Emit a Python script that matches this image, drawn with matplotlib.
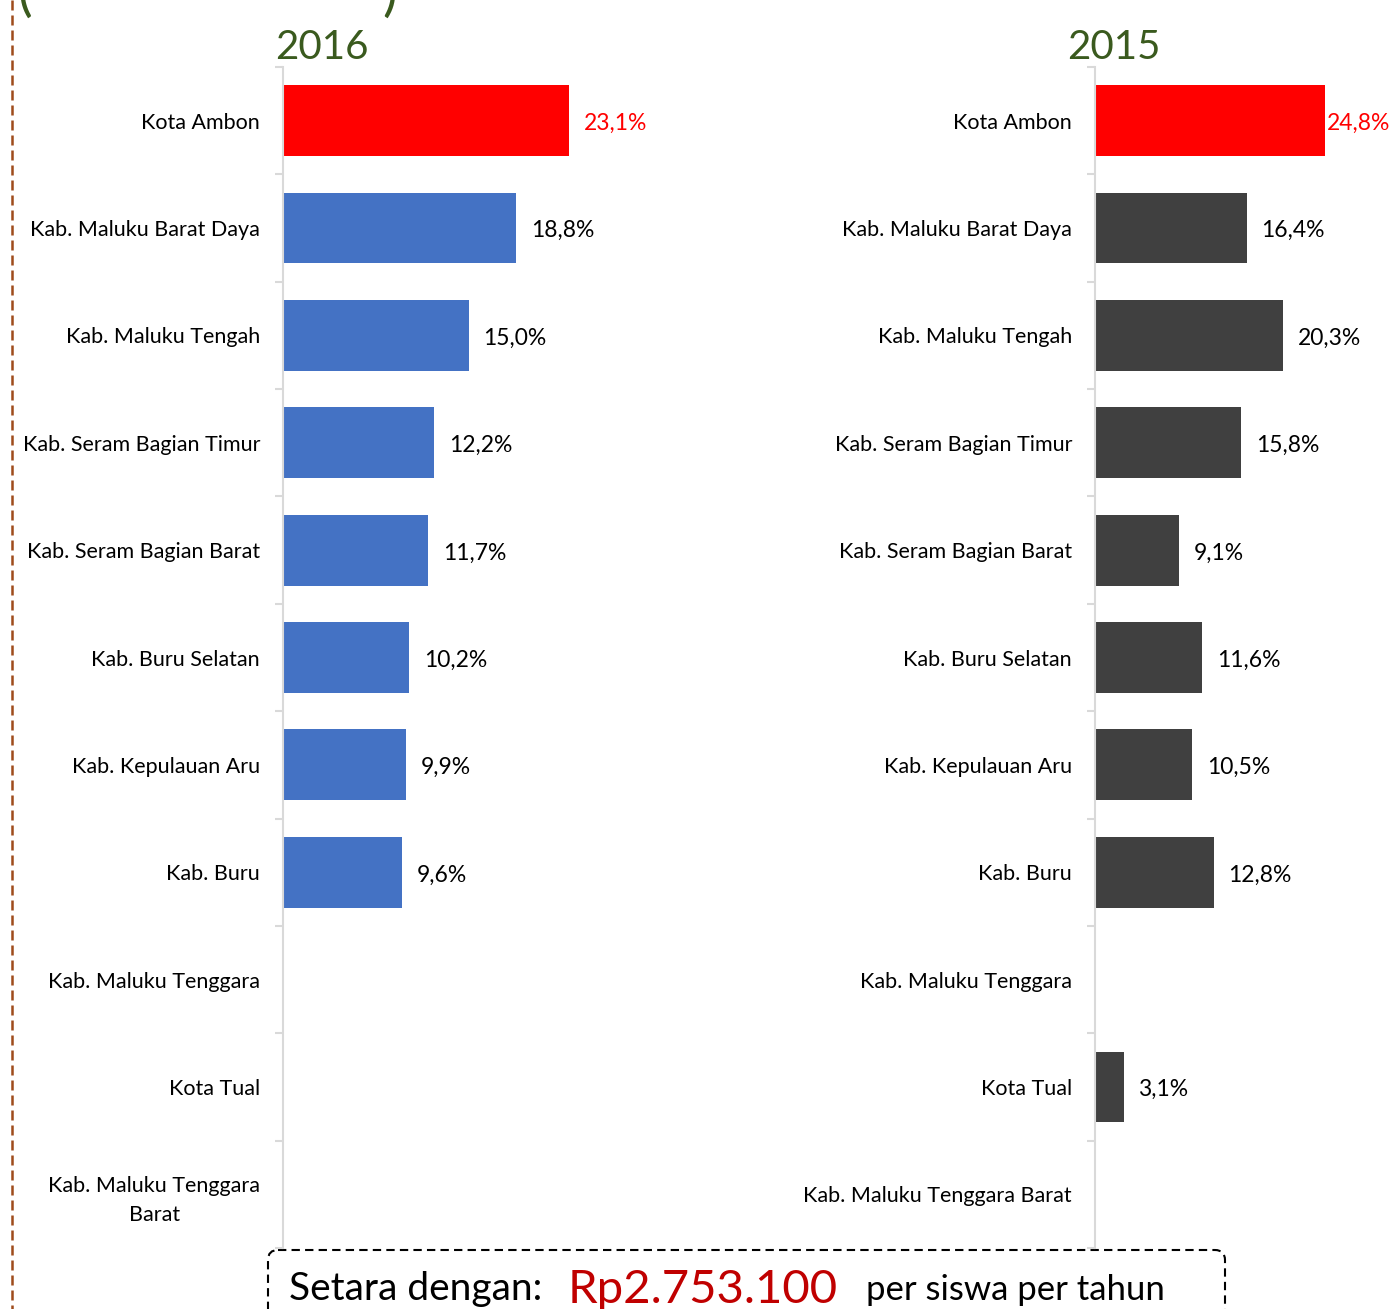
import numpy as np
import matplotlib
matplotlib.use("Agg")
import matplotlib.pyplot as plt
from matplotlib.patches import FancyBboxPatch
from matplotlib.lines import Line2D

plt.rcParams["font.family"] = ["Lato", "DejaVu Sans"]

categories = ["Kota Ambon", "Kab. Maluku Barat Daya", "Kab. Maluku Tengah",
              "Kab. Seram Bagian Timur", "Kab. Seram Bagian Barat", "Kab. Buru Selatan",
              "Kab. Kepulauan Aru", "Kab. Buru", "Kab. Maluku Tenggara", "Kota Tual",
              "Kab. Maluku Tenggara Barat"]
labels_2016 = categories[:-1] + ["Kab. Maluku Tenggara\nBarat"]
labels_2015 = categories
values_2016 = [23.1, 18.8, 15.0, 12.2, 11.7, 10.2, 9.9, 9.6, np.nan, np.nan, np.nan]
values_2015 = [24.8, 16.4, 20.3, 15.8, 9.1, 11.6, 10.5, 12.8, np.nan, 3.1, np.nan]

W, H = 1393, 1309
fig = plt.figure(figsize=(W / 100, H / 100), dpi=100)

RED = "#FF0000"
GREEN = "#3A5A1E"
GRID = "#D9D9D9"


def draw_panel(rect, values, labels, color, title, title_dx, first_pad):
    ax = fig.add_axes(rect)
    n = len(values)
    y = np.arange(n)
    colors = [RED if i == 0 else color for i in range(n)]
    vals = np.nan_to_num(values)
    ax.barh(y, vals, height=0.66, color=colors)
    for i, v in enumerate(values):
        if np.isnan(v):
            continue
        pad = first_pad if i == 0 else 10.5
        ax.annotate(f"{v:.1f}%".replace(".", ","), (v, i), xytext=(pad, -2),
                    textcoords="offset points", va="center", ha="left",
                    fontsize=16.5, color=RED if i == 0 else "black")
    ax.set_ylim(n - 0.5, -0.5)
    ax.set_xlim(0, 30)
    ax.set_yticks(y)
    ax.set_yticklabels(labels, fontsize=15.5)
    for t in ax.get_yticklabels():
        t.set_multialignment("center")
        t.set_linespacing(1.55)
    ax.set_yticks(np.arange(n + 1) - 0.5, minor=True)
    ax.tick_params(axis="y", which="major", length=0, pad=16.5)
    ax.tick_params(axis="y", which="minor", length=6, color=GRID, width=1.5)
    ax.set_xticks([])
    for s in ["top", "right", "bottom"]:
        ax.spines[s].set_visible(False)
    ax.spines["left"].set_color(GRID)
    ax.spines["left"].set_linewidth(1.5)
    ax.annotate(title, (0, 1), xycoords="axes fraction", xytext=(title_dx, 8),
                textcoords="offset pixels", fontsize=29, color=GREEN,
                ha="left", va="baseline")
    return ax


bottom = 1 - 1248 / H
height = (1248 - 67) / H
draw_panel([283 / W, bottom, 372 / W, height], values_2016, labels_2016, "#4472C4", "2016", -8, 10.5)
draw_panel([1095 / W, bottom, 278 / W, height], values_2015, labels_2015, "#404040", "2015", -28, 1.5)

# overlay in pixel coordinates for decorations
ov = fig.add_axes([0, 0, 1, 1], zorder=-1)
ov.set_xlim(0, W)
ov.set_ylim(H, 0)
ov.axis("off")
ov.add_line(Line2D([12, 12], [0, H], color="#9E4B1B", lw=1.8, linestyle=(0, (4, 2))))
ov.text(18, 10, "(", fontsize=40, color=GREEN, ha="left", va="baseline")
ov.text(382, 10, ")", fontsize=40, color=GREEN, ha="left", va="baseline")

box = FancyBboxPatch((268, 1250), 957, 120, boxstyle="round,pad=0,rounding_size=10",
                     fill=False, edgecolor="black", lw=1.5, linestyle=(0, (4, 2.5)))
ov.add_patch(box)
ov.text(289, 1300, "Setara dengan:", fontsize=28, ha="left", va="baseline")
ov.text(568, 1303, "Rp2.753.100", fontsize=34, color="#C00000", ha="left", va="baseline")
ov.text(866, 1300, "per siswa per tahun", fontsize=25, ha="left", va="baseline")

fig.savefig("out.png", dpi=100)
